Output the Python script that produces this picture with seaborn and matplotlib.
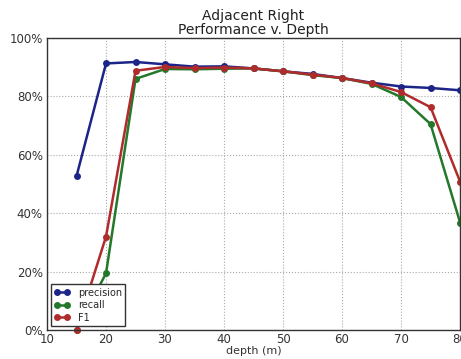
import matplotlib
matplotlib.use("Agg")
import matplotlib.pyplot as plt
import pandas as pd
import seaborn as sns
from matplotlib.ticker import PercentFormatter

depth = [15, 20, 25, 30, 35, 40, 45, 50, 55, 60, 65, 70, 75, 80]
precision = [0.527, 0.913, 0.918, 0.910, 0.902, 0.903, 0.896, 0.886, 0.877, 0.863, 0.847, 0.834, 0.829, 0.821]
recall = [0.0, 0.194, 0.860, 0.894, 0.893, 0.895, 0.896, 0.886, 0.873, 0.863, 0.843, 0.798, 0.705, 0.368]
f1 = [0.0, 0.320, 0.888, 0.901, 0.897, 0.899, 0.896, 0.886, 0.875, 0.863, 0.845, 0.815, 0.763, 0.508]

rows = []
for name, vals in [("precision", precision), ("recall", recall), ("F1", f1)]:
    for d, v in zip(depth, vals):
        rows.append({"depth": d, "value": v, "metric": name})
df = pd.DataFrame(rows)

sns.set_style("white")
plt.rcParams["font.family"] = ["DejaVu Sans"]

fig = plt.figure(figsize=(4.61, 3.59), dpi=100)
ax = fig.add_axes([0.102, 0.081, 0.896, 0.813])

palette = {"precision": "#1c2488", "recall": "#23782a", "F1": "#b02c2c"}
sns.lineplot(data=df, x="depth", y="value", hue="metric", palette=palette,
             marker="o", markersize=5, markeredgewidth=0, linewidth=1.8,
             ax=ax, clip_on=False)

ax.set_xlim(10, 80)
ax.set_ylim(0, 1)
ax.set_xticks(range(10, 81, 10))
ax.set_yticks([0, 0.2, 0.4, 0.6, 0.8, 1.0])
ax.yaxis.set_major_formatter(PercentFormatter(1.0, decimals=0))
ax.tick_params(axis="both", labelsize=8.5, colors="#333333", length=0)
ax.tick_params(axis="x", pad=2)
ax.tick_params(axis="y", pad=3)
ax.grid(True, linestyle=":", color="#aaaaaa", linewidth=0.8)
for s in ax.spines.values():
    s.set_color("#333333")
    s.set_linewidth(1.0)

ax.set_xlabel("depth (m)", fontsize=8, color="#333333", labelpad=0)
ax.set_ylabel("")
ax.set_title("Adjacent Right\nPerformance v. Depth", fontsize=10, color="#222222",
             linespacing=1.0, pad=3)

handles, labels = ax.get_legend_handles_labels()
leg = ax.legend(handles, labels, loc="lower left", numpoints=2, fancybox=False,
                fontsize=7, edgecolor="#333333", framealpha=1, handlelength=1.6,
                borderpad=0.35, labelspacing=0.25, borderaxespad=0.4)
leg.get_frame().set_linewidth(1.0)

fig.savefig("out.png", dpi=100)
